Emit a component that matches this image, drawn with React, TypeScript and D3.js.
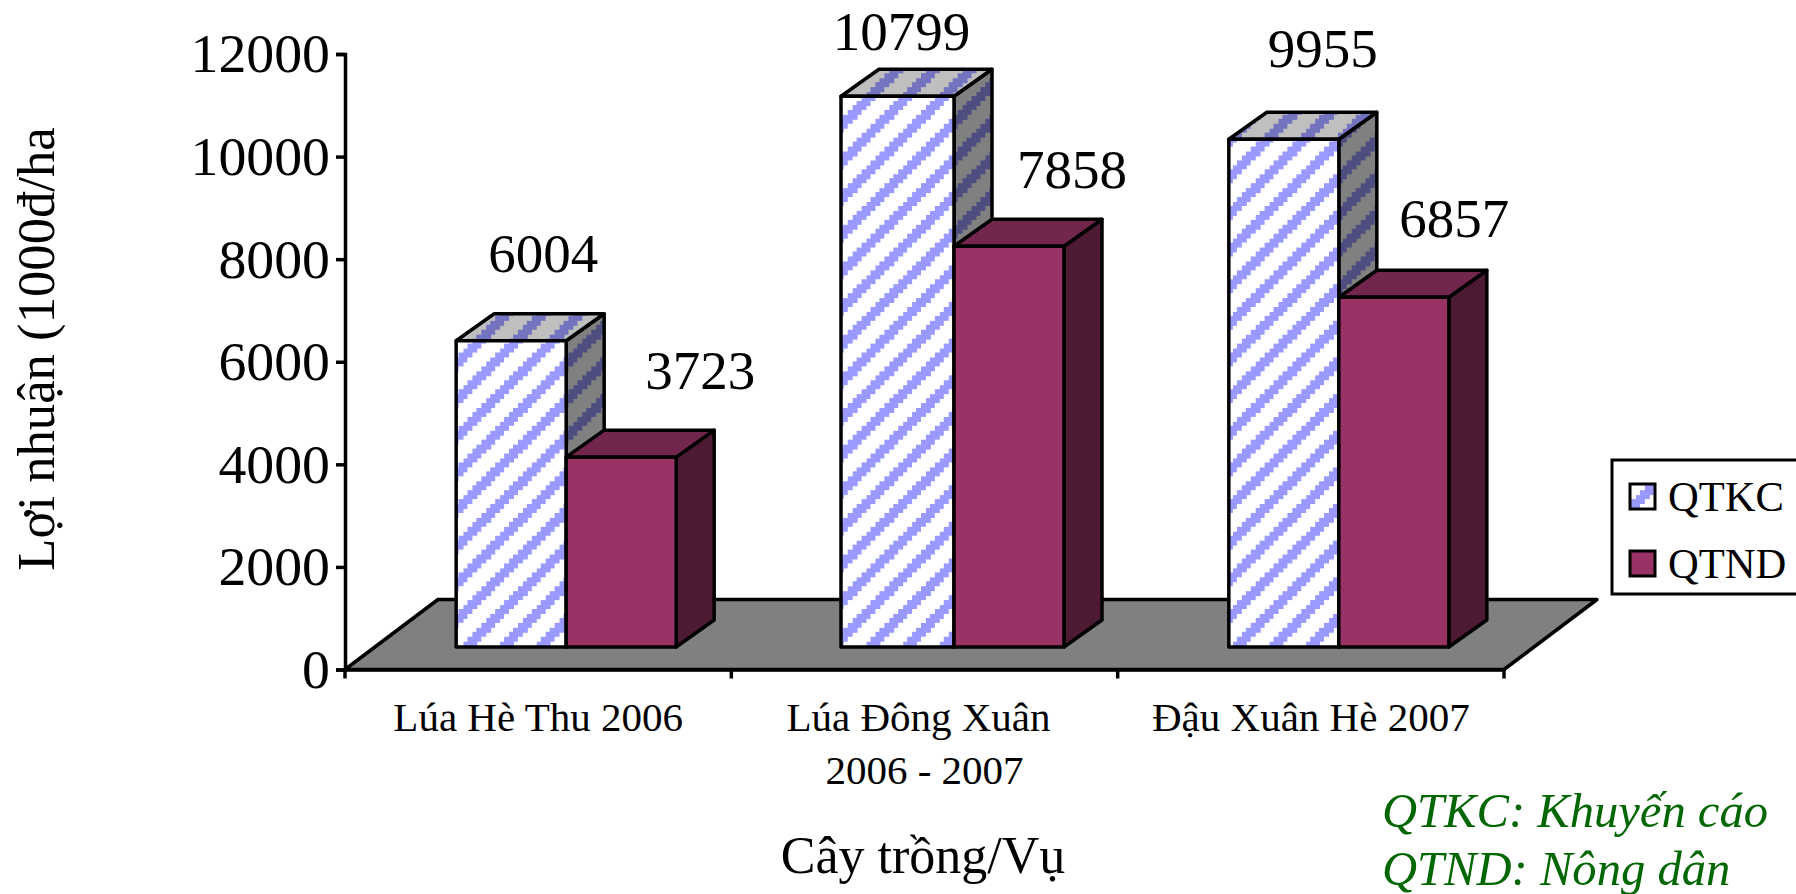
import React, { useEffect, useRef } from 'react';
import * as d3 from 'd3';

const categories = ['Lúa Hè Thu 2006', 'Lúa Đông Xuân|2006 - 2007', 'Đậu Xuân Hè 2007'];
const seriesNames = ['QTKC', 'QTND'];
const qtkc = [6004, 10799, 9955];
const qtnd = [3723, 7858, 6857];
const yTicks = [0, 2000, 4000, 6000, 8000, 10000, 12000];
const yTitle = 'Lợi nhuận (1000đ/ha';
const xTitle = 'Cây trồng/Vụ';
const notes = ['QTKC: Khuyến cáo', 'QTND: Nông dân'];

// data labels sit away from the bars, offsets from the bar's top centre
const labelOffsets = [
  [[32, -69], [79, -68]],
  [[4, -46], [63, -58]],
  [[39, -72], [60.5, -60]],
];
// the bars are not placed quite evenly in the source picture
const groupNudge = [0, 1.5, 0];
const leftExtra = [0, 3, 0];
const firstLineNudge = [0, -6, 0];

const FONT = '"Liberation Serif", "Times New Roman", serif';
const WIDTH = 1796;
const HEIGHT = 894;

// one tile of the stair-stepped diagonal hatch
const addHatch = (defs, id, bg, fg) => {
  const cell = 4.58;
  const n = 8;
  const p = defs.append('pattern')
    .attr('id', id)
    .attr('patternUnits', 'userSpaceOnUse')
    .attr('patternTransform', 'translate(5,0)')
    .attr('width', cell * n)
    .attr('height', cell * n)
    .attr('shape-rendering', 'crispEdges');
  p.append('rect').attr('width', cell * n).attr('height', cell * n).attr('fill', bg);
  d3.range(n).forEach(i => {
    d3.range(n).forEach(j => {
      if ((i + j) % n < 3) {
        p.append('rect')
          .attr('x', i * cell)
          .attr('y', j * cell)
          .attr('width', cell + 0.3)
          .attr('height', cell + 0.3)
          .attr('fill', fg);
      }
    });
  });
};

const App = () => {
  const svgRef = useRef<SVGSVGElement>(null);

  useEffect(() => {
    const svg = d3.select(svgRef.current);
    svg.selectAll('*').remove();

    const defs = svg.append('defs');
    addHatch(defs, 'hatch-front', '#ffffff', '#9999ff');
    addHatch(defs, 'hatch-top', '#bfbfbf', '#7373bf');
    addHatch(defs, 'hatch-side', '#808080', '#4d4d80');

    const left = 345;
    const right = 1504;
    const bottom = 669.5;
    const top = 54;

    const xScale = d3.scaleBand().domain(categories).range([left, right]);
    const yScale = d3.scaleLinear().domain([0, 12000]).range([bottom, top]);
    // bars stand further back on the floor, so their scale is a bit shorter
    const barY = d3.scaleLinear().domain([0, 12000]).range([647, 35]);

    // floor
    const floorDx = 93;
    const floorDy = -70;
    svg.append('path')
      .attr('d', `M${left},${bottom}L${left + floorDx},${bottom + floorDy}L${right + floorDx},${bottom + floorDy}L${right},${bottom}Z`)
      .attr('fill', '#808080')
      .attr('stroke', '#000')
      .attr('stroke-width', 3.5)
      .attr('stroke-linejoin', 'round');

    // bars
    const barWidth = 110;
    const shiftX = 28;
    const sideDx = 38;
    const sideDy = -27;

    const faces = [
      { side: 'url(#hatch-side)', top: 'url(#hatch-top)', front: 'url(#hatch-front)' },
      { side: '#4d1a33', top: '#73264d', front: '#993366' },
    ];

    const face = (d, fill) => svg.append('path')
      .attr('d', d)
      .attr('fill', fill)
      .attr('stroke', '#000')
      .attr('stroke-width', 3.5)
      .attr('stroke-linejoin', 'round');

    categories.forEach((c, i) => {
      const mid = xScale(c) + xScale.bandwidth() / 2 + shiftX + groupNudge[i];
      [qtkc[i], qtnd[i]].forEach((v, s) => {
        const x0 = mid + (s - 1) * barWidth - (s === 0 ? leftExtra[i] : 0);
        const x1 = s === 0 ? mid : mid + barWidth;
        const y0 = barY(v);
        const y1 = barY(0);
        face(`M${x1},${y0}L${x1 + sideDx},${y0 + sideDy}L${x1 + sideDx},${y1 + sideDy}L${x1},${y1}Z`, faces[s].side);
        face(`M${x0},${y0}L${x0 + sideDx},${y0 + sideDy}L${x1 + sideDx},${y0 + sideDy}L${x1},${y0}Z`, faces[s].top);
        face(`M${x0},${y0}H${x1}V${y1}H${x0}Z`, faces[s].front);
        const [ox, oy] = labelOffsets[i][s];
        svg.append('text')
          .attr('x', (x0 + x1) / 2 + ox)
          .attr('y', y0 + oy)
          .attr('text-anchor', 'middle')
          .attr('font-family', FONT)
          .attr('font-size', 55)
          .text(v);
      });
    });

    // axes
    const yAxis = d3.axisLeft(yScale).tickValues(yTicks).tickFormat(d3.format('d')).tickSize(9).tickPadding(6);
    const gy = svg.append('g').attr('transform', `translate(${left},0)`).call(yAxis);
    gy.selectAll('text').attr('font-family', FONT).attr('font-size', 55.8).attr('fill', '#000');

    const xAxis = d3.axisBottom(xScale).tickSize(0).tickFormat(() => '');
    const gx = svg.append('g').attr('transform', `translate(0,${bottom})`).call(xAxis);
    const boundaries = xScale.domain().map(d => xScale(d)).concat(right);
    boundaries.forEach(bx => {
      gx.append('line').attr('x1', bx).attr('x2', bx).attr('y1', 0).attr('y2', 9).attr('stroke', '#000');
    });
    svg.selectAll('.domain').attr('stroke', '#000').attr('stroke-width', 3.5);
    svg.selectAll('.tick line').attr('stroke', '#000').attr('stroke-width', 3.5);
    gx.selectAll('line').attr('stroke-width', 3.5);

    // category labels
    categories.forEach((c, i) => {
      const cx = xScale(c) + xScale.bandwidth() / 2;
      c.split('|').forEach((line, k) => {
        svg.append('text')
          .attr('x', cx + (k === 0 ? firstLineNudge[i] : 0))
          .attr('y', 731 + k * 53)
          .attr('text-anchor', 'middle')
          .attr('font-family', FONT)
          .attr('font-size', 41)
          .text(line);
      });
    });

    // axis titles
    svg.append('text')
      .attr('transform', 'translate(54,349) rotate(-90)')
      .attr('text-anchor', 'middle')
      .attr('font-family', FONT)
      .attr('font-size', 52.7)
      .text(yTitle);
    svg.append('text')
      .attr('x', 923)
      .attr('y', 873)
      .attr('text-anchor', 'middle')
      .attr('font-family', FONT)
      .attr('font-size', 52)
      .text(xTitle);

    // legend
    svg.append('rect')
      .attr('x', 1612)
      .attr('y', 460)
      .attr('width', 200)
      .attr('height', 134)
      .attr('fill', '#fff')
      .attr('stroke', '#000')
      .attr('stroke-width', 3);
    seriesNames.forEach((name, s) => {
      const ly = 495 + s * 67;
      svg.append('rect')
        .attr('x', 1630)
        .attr('y', ly - 11)
        .attr('width', 25)
        .attr('height', 25)
        .attr('fill', faces[s].front)
        .attr('stroke', '#000')
        .attr('stroke-width', 3);
      svg.append('text')
        .attr('x', 1668)
        .attr('y', ly + 16)
        .attr('font-family', FONT)
        .attr('font-size', 42.6)
        .text(name);
    });

    // notes
    notes.forEach((n, k) => {
      svg.append('text')
        .attr('x', 1382)
        .attr('y', 827 + k * 58)
        .attr('font-family', FONT)
        .attr('font-style', 'italic')
        .attr('font-size', 48.6)
        .attr('fill', '#006600')
        .text(n);
    });
  }, []);

  return (
    <svg
      ref={svgRef}
      width={WIDTH}
      height={HEIGHT}
      style={{ position: 'fixed', left: 0, top: 0, background: '#fff' }}
    ></svg>
  );
};

export default App;
